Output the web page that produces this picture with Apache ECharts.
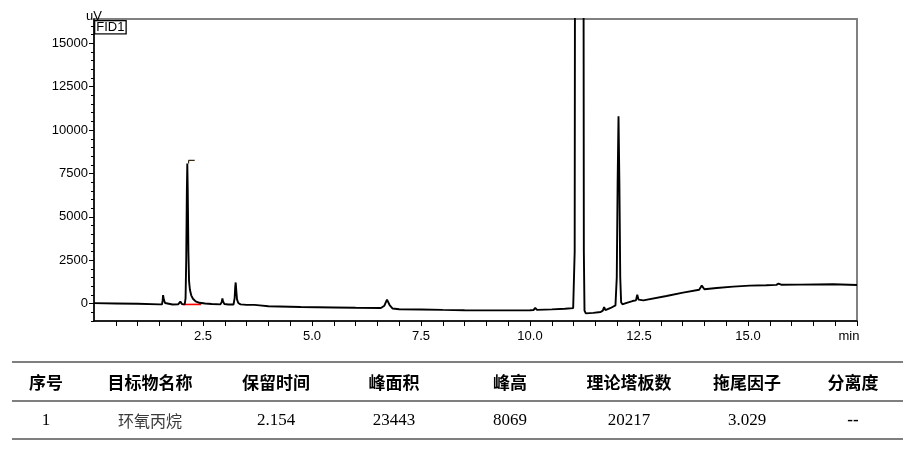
<!DOCTYPE html>
<html>
<head>
<meta charset="utf-8">
<script src="https://cdn.jsdelivr.net/npm/echarts@6/dist/echarts.min.js"></script>
<style>
html,body{margin:0;padding:0;background:#fff;}
#chart{width:916px;height:449px;}
</style>
</head>
<body>
<div id="chart"></div>
<script>
// chromatogram trace (time in min, signal in uV)
var times = [0.00,0.50,1.00,1.50,1.56,1.575,1.585,1.60,1.63,1.67,1.80,1.93,1.98,2.02,2.08,2.10,2.115,2.13,2.14,2.15,2.165,2.18,2.20,2.23,2.27,2.33,2.42,2.55,2.70,2.90,2.93,2.945,2.96,2.99,3.08,3.20,3.225,3.24,3.25,3.265,3.28,3.31,3.36,3.50,3.59,3.63,3.68,3.80,4.00,4.74,5.50,6.00,6.58,6.66,6.72,6.78,6.85,7.00,7.50,8.00,8.50,9.00,9.50,10.00,10.08,10.12,10.16,10.50,10.80,10.99,11.01,11.025,11.04,11.22,11.235,11.25,11.28,11.31,11.45,11.62,11.67,11.70,11.73,11.85,11.96,11.99,12.01,12.03,12.05,12.07,12.09,12.12,12.20,12.35,12.43,12.46,12.49,12.60,13.13,13.51,13.88,13.94,14.00,14.28,14.66,15.04,15.42,15.65,15.70,15.76,16.18,16.95,17.50];
var signal = [30,10,-10,-40,-40,200,495,250,40,-40,-50,-40,115,-30,-40,300,2500,6500,8070,6500,3000,1300,800,480,280,130,50,10,-20,-40,100,300,120,-20,-50,-50,300,1000,1220,700,250,40,-40,-70,-70,40,-70,-100,-150,-196,-220,-240,-253,-120,230,-80,-280,-320,-335,-360,-380,-385,-388,-380,-370,-240,-360,-330,-290,-260,-150,3000,40000,40000,3000,-400,-560,-576,-530,-484,-400,-200,-380,-250,-100,1500,7000,10800,7000,1500,80,-40,30,150,190,520,230,190,440,635,800,1040,830,900,980,1040,1060,1080,1155,1090,1097,1115,1075];
// integration baseline of peak 1
var baseTimes = [2.03, 2.46];
var baseSignal = [-50, -40];
// peak start marker
var markTimes = [2.17, 2.17, 2.31];
var markSignal = [8080, 8250, 8250];
// axis ticks
var yMajor = [0,2500,5000,7500,10000,12500,15000];
var yMinor = [-1000,-500,0,500,1000,1500,2000,2500,3000,3500,4000,4500,5000,5500,6000,6500,7000,7500,8000,8500,9000,9500,10000,10500,11000,11500,12000,12500,13000,13500,14000,14500,15000,15500,16000];
var xLabels = [2.5,5.0,7.5,10.0,12.5,15.0];
// table
var headers = ['序号','目标物名称','保留时间','峰面积','峰高','理论塔板数','拖尾因子','分离度'];
var row = ['1','环氧丙烷','2.154','23443','8069','20217','3.029','--'];

function pairs(xs, ys){ return xs.map(function(x,i){ return [x, ys[i]]; }); }

var axisFont = '"Liberation Sans Narrow", "Liberation Sans", Arial, sans-serif';
var colX = [46,150,276,394,510,629,747,853];
var graphics = [];
graphics.push({type:'text', left:94, top:20, z:10, style:{text:'FID1', font:'13px ' + axisFont, fill:'#000', borderColor:'#000', borderWidth:1.3, padding:[0,1,-1,1], backgroundColor:'#fff'}});
[362,401,439].forEach(function(y){
  graphics.push({type:'line', shape:{x1:12,y1:y,x2:903,y2:y}, style:{stroke:'#000', lineWidth:1.2}});
});
headers.forEach(function(h,i){
  graphics.push({type:'text', x:colX[i], y:383, style:{text:h, align:'center', verticalAlign:'middle', font:'bold 17px "Noto Sans CJK SC", sans-serif', fill:'#000'}});
});
row.forEach(function(v,i){
  var isCJK = /[\u4e00-\u9fff]/.test(v);
  graphics.push({type:'text', x:colX[i], y:421, style:{text:v, align:'center', verticalAlign:'middle',
    font: isCJK ? '16px "Noto Sans CJK SC", sans-serif' : (v==='--' ? 'bold 17px "Liberation Serif", serif' : '17px "Liberation Serif", serif'),
    fill: isCJK ? '#3a3a3a' : '#000'}});
});

var chart = echarts.init(document.getElementById('chart'), null, {renderer:'canvas'});
chart.setOption({
  animation:false,
  backgroundColor:'#fff',
  grid:{left:94, right:59, top:19, bottom:128, show:true, borderColor:'#808080', borderWidth:2, backgroundColor:'transparent'},
  xAxis:{
    type:'value', min:0, max:17.5, interval:0.5,
    axisLine:{show:true, onZero:false, lineStyle:{color:'#000', width:1.5}},
    axisTick:{show:true, length:5, lineStyle:{color:'#000', width:1}},
    axisLabel:{
      showMinLabel:false, showMaxLabel:true, margin:9,
      color:'#000', fontSize:13, fontFamily:axisFont,
      formatter:function(v){
        if (Math.abs(v-17.5)<1e-6) return '{m|min}';
        for (var i=0;i<xLabels.length;i++){ if (Math.abs(v-xLabels[i])<1e-6) return xLabels[i].toFixed(1); }
        return '';
      },
      rich:{m:{color:'#000', fontSize:13, fontFamily:axisFont, padding:[0,16,0,0]}}
    },
    splitLine:{show:false}
  },
  yAxis:[{
    type:'value', min:-1000, max:16400, position:'left',
    name:'uV', nameLocation:'end', nameGap:0,
    nameTextStyle:{color:'#000', fontSize:13, fontFamily:axisFont, align:'center', verticalAlign:'bottom', padding:[0,0,-4,0]},
    axisLine:{show:true, onZero:false, lineStyle:{color:'#000', width:1.5}},
    axisTick:{show:true, length:5, customValues:yMajor, lineStyle:{color:'#000', width:1}},
    axisLabel:{customValues:yMajor, margin:6, color:'#000', fontSize:13, fontFamily:axisFont,
      formatter:function(v){ return String(Math.round(v)); }},
    splitLine:{show:false}
  },{
    type:'value', min:-1000, max:16400, position:'left',
    axisLine:{show:false},
    axisTick:{show:true, length:3, customValues:yMinor, lineStyle:{color:'#000', width:1}},
    axisLabel:{show:false},
    splitLine:{show:false}
  }],
  series:[{
    type:'line', name:'FID1', data:pairs(times, signal), showSymbol:false, symbol:'none', clip:true,
    lineStyle:{color:'#000', width:1.9}, z:3
  },{
    type:'line', name:'baseline', data:pairs(baseTimes, baseSignal), showSymbol:false, symbol:'none',
    lineStyle:{color:'#ff0000', width:1.6}, z:2
  },{
    type:'line', name:'marker', data:pairs(markTimes, markSignal), showSymbol:false, symbol:'none',
    lineStyle:{color:'#3a2a10', width:1.2}, z:4
  }],
  graphic:graphics
});
</script>
</body>
</html>
